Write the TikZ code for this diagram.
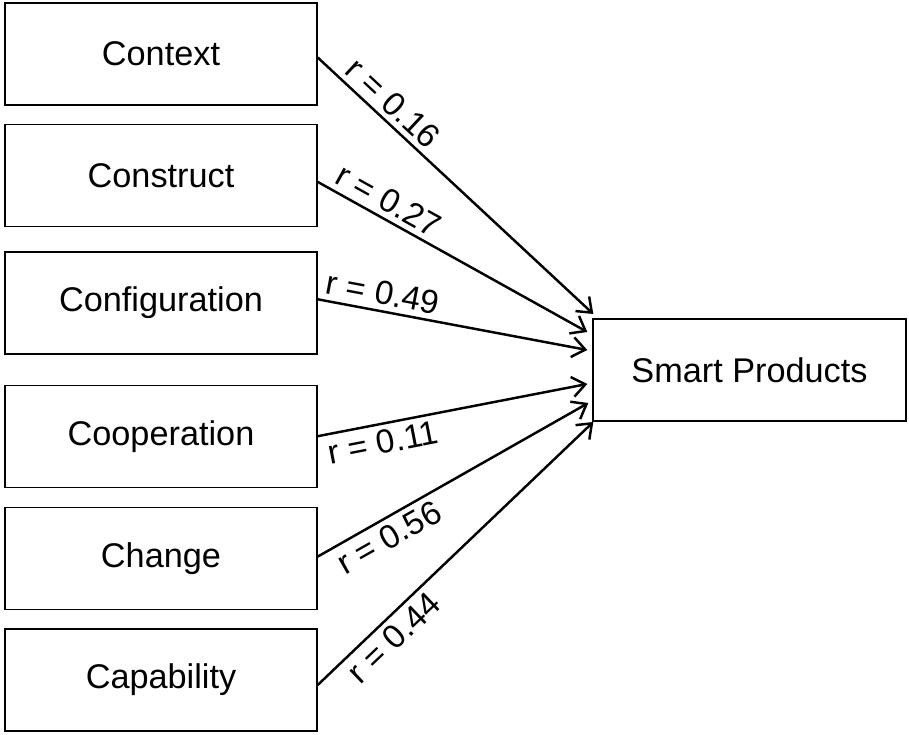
\documentclass[tikz,border=0pt]{standalone}
\usepackage{fontspec}
\setmainfont{Liberation Sans}
\usetikzlibrary{positioning,arrows.meta}

\tikzset{
  factor/.style={draw, line width=0.8pt, minimum width=6.24cm, minimum height=2.04cm,
    inner sep=0pt, font=\fontsize{19.5}{23}\selectfont},
  link/.style={-{Straight Barb[length=0.26cm,width=0.4cm]}, line width=1.4pt},
  corr/.style={sloped, pos=0.23, inner sep=3pt, font=\fontsize{19}{22}\selectfont}
}

\begin{document}
\begin{tikzpicture}

  \useasboundingbox (0,0) rectangle (18.18,14.7);

  % Define nodes
  \node[factor] at (3.22,13.62)      (ctx) {Context};
  \node[factor, below=0.36cm of ctx] (con) {Construct};
  \node[factor, below=0.48cm of con] (cfg) {Configuration};
  \node[factor, below=0.6cm of cfg]  (coo) {Cooperation};
  \node[factor, below=0.38cm of coo] (chg) {Change};
  \node[factor, below=0.36cm of chg] (cap) {Capability};
  \node[factor, minimum width=6.26cm] at (14.99,7.3) (sp) {Smart Products};

  % Connect the nodes
  \draw[link] ([yshift=-0.07cm]ctx.east) -- node[corr, above] {r = 0.16} ([shift={(0.02,1.12)}]sp.west);
  \draw[link] ([yshift=-0.13cm]con.east) -- node[corr, above] {r = 0.27} ([shift={(-0.1,0.76)}]sp.west);
  \draw[link] ([yshift=0.07cm]cfg.east) -- node[corr, above] {r = 0.49} ([shift={(-0.1,0.4)}]sp.west);
  \draw[link] (coo.east) -- node[corr, below] {r = 0.11} ([shift={(-0.1,-0.28)}]sp.west);
  \draw[link] ([yshift=0.04cm]chg.east) -- node[corr, below] {r = 0.56} ([shift={(-0.08,-0.66)}]sp.west);
  \draw[link] ([yshift=-0.1cm]cap.east) -- node[corr, below] {r = 0.44} ([shift={(0.02,-1.04)}]sp.west);

\end{tikzpicture}
\end{document}
